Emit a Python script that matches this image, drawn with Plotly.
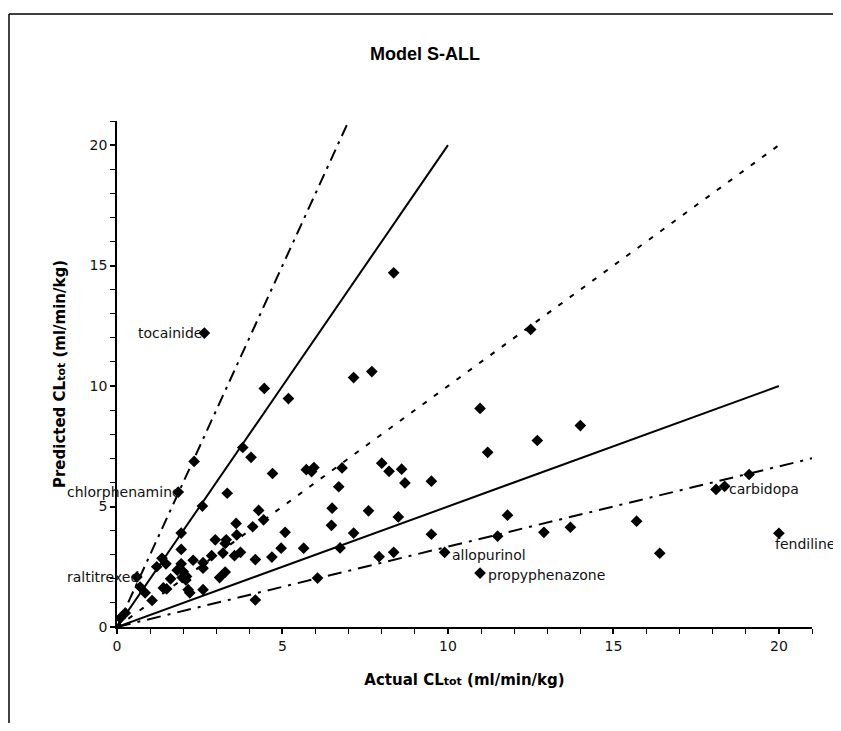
import plotly.graph_objects as go

# Observed data (Actual vs Predicted CLtot, ml/min/kg)
actual = [8.36, 12.5, 2.64, 7.15, 7.7, 10.97, 4.45, 5.18, 14.0, 12.7, 11.2, 3.8, 4.05, 2.33,
          4.7, 5.72, 5.95, 5.88, 6.8, 8.0, 8.22, 8.6, 8.7, 9.5, 6.7, 3.33, 1.85, 2.58, 6.5,
          7.6, 8.5, 4.28, 4.43, 3.6, 4.1, 1.94, 5.08, 6.48, 7.15, 9.5, 2.97, 3.3, 3.27, 3.62,
          1.94, 3.2, 3.55, 3.73, 2.86, 2.3, 2.6, 2.6, 4.18, 4.68, 4.96, 5.64, 6.74, 7.92,
          8.36, 9.9, 1.36, 1.48, 1.2, 1.94, 1.82, 2.0, 2.1, 1.97, 1.62, 2.08, 3.1, 3.27, 1.4,
          1.5, 2.15, 2.2, 2.6, 1.06, 0.85, 0.7, 0.6, 0.25, 0.1, 4.18, 6.06, 10.97, 11.8,
          11.5, 12.9, 13.7, 15.7, 16.4, 18.1, 18.36, 19.1, 20.0]
predicted = [14.7, 12.35, 12.2, 10.35, 10.6, 9.07, 9.9, 9.48, 8.36, 7.74, 7.25, 7.45, 7.04, 6.87,
             6.37, 6.53, 6.62, 6.45, 6.6, 6.8, 6.46, 6.55, 5.98, 6.05, 5.82, 5.55, 5.6, 5.02, 4.93,
             4.82, 4.57, 4.84, 4.45, 4.3, 4.16, 3.9, 3.93, 4.22, 3.9, 3.85, 3.62, 3.62, 3.47, 3.82,
             3.22, 3.07, 2.96, 3.1, 2.96, 2.77, 2.67, 2.44, 2.8, 2.9, 3.27, 3.27, 3.28, 2.92,
             3.1, 3.1, 2.85, 2.62, 2.5, 2.62, 2.36, 2.3, 2.1, 2.05, 2.0, 1.95, 2.05, 2.28, 1.62,
             1.58, 1.55, 1.42, 1.55, 1.1, 1.42, 1.66, 2.07, 0.58, 0.37, 1.12, 2.03, 2.24, 4.64,
             3.77, 3.93, 4.14, 4.39, 3.06, 5.71, 5.84, 6.33, 3.89]

# Labelled compounds
label_names = ["tocainide", "chlorphenamine", "raltitrexed", "allopurinol",
               "propyphenazone", "carbidopa", "fendiline"]
label_x = [2.64, 1.85, 0.6, 9.9, 10.97, 18.36, 20.0]
label_y = [12.2, 5.6, 2.07, 3.1, 2.24, 5.84, 3.89]

# Reference fold lines (endpoints)
ref_names = ["3-fold over", "2-fold over", "line of unity", "2-fold under", "3-fold under"]
ref_x = [[0, 7], [0, 10], [0, 20], [0, 20], [0, 21]]
ref_y = [[0, 21], [0, 20], [0, 20], [0, 10], [0, 7]]
ref_dash = ["12px,6px,3px,6px", "solid", "5px,9px", "solid", "14px,7px,3px,7px"]

FONT = "DejaVu Sans, Verdana, sans-serif"

fig = go.Figure()
for n, xs, ys, d in zip(ref_names, ref_x, ref_y, ref_dash):
    fig.add_trace(go.Scatter(x=xs, y=ys, mode="lines", name=n,
                             line=dict(color="black", width=2, dash=d)))

fig.add_trace(go.Scatter(x=actual, y=predicted, mode="markers", name="compounds",
                         marker=dict(symbol="diamond", size=9, color="black")))

# label placement styles
anchors = ["right", "right", "right", "left", "left", "left", "left"]
xshifts = [0, 5, 4, 5, 6, 2, -6]
yshifts = [0, 0, 0, -3, -2, -3, -11]
for n, xv, yv, a, xs, ys in zip(label_names, label_x, label_y, anchors, xshifts, yshifts):
    fig.add_annotation(x=xv, y=yv, xref="x", yref="y", text=n, showarrow=False,
                       xanchor=a, yanchor="middle", xshift=xs, yshift=ys,
                       font=dict(family=FONT, size=14, color="#111"))

axis_common = dict(
    showgrid=False, zeroline=False, showline=True, linecolor="black", linewidth=1.5,
    ticks="outside", ticklen=5, tickwidth=1.5, tickcolor="black", dtick=5, tick0=0,
    minor=dict(ticks="outside", dtick=1, ticklen=5, tickwidth=1.2, tickcolor="black"),
    tickfont=dict(family=FONT, size=14, color="#111"),
    range=[0, 21], fixedrange=True,
)

W, H = 833, 715
L, R, T, B = 109, 29, 113, 96
PW, PH = W - L - R, H - T - B

fig.update_layout(
    width=W, height=H,
    margin=dict(l=L, r=R, t=T, b=B),
    paper_bgcolor="white", plot_bgcolor="white",
    showlegend=False,
    title=dict(text="<b>Model S-ALL</b>", x=(425 - 8) / W, xref="container", xanchor="center",
               y=1 - (54 - 8) / H, yref="container", yanchor="middle",
               font=dict(family="Liberation Sans, Arial", size=18, color="black")),
    xaxis=dict(axis_common,
               title=dict(text="<b>Actual CL<span style='font-size:11px'>tot</span> (ml/min/kg)</b>",
                          standoff=22,
                          font=dict(family=FONT, size=15, color="black"))),
    yaxis=dict(axis_common,
               title=dict(text="<b>Predicted CL<span style='font-size:11px'>tot</span> (ml/min/kg)</b>",
                          standoff=20,
                          font=dict(family=FONT, size=15, color="black"))),
)

# outer chart frame: only its top and left edges are within the window
fx0 = (1 - L) / PW
fy1 = 1 + (T - 6) / PH
fig.add_shape(type="line", xref="paper", yref="paper",
              x0=fx0, x1=(W - L) / PW, y0=fy1, y1=fy1,
              line=dict(color="black", width=1.5), layer="below")
fig.add_shape(type="line", xref="paper", yref="paper",
              x0=fx0, x1=fx0, y0=-B / PH, y1=fy1,
              line=dict(color="black", width=1.5), layer="below")

fig.write_html("out.html")
